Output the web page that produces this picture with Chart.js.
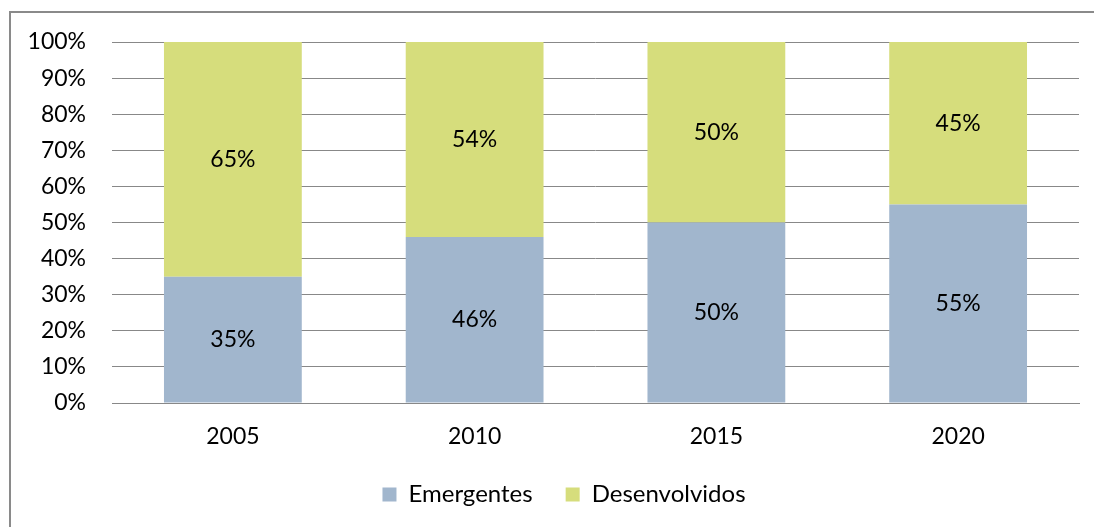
<!DOCTYPE html>
<html><head><meta charset="utf-8">
<script src="https://cdn.jsdelivr.net/npm/chart.js@4/dist/chart.umd.min.js"></script>
<style>
html,body{margin:0;padding:0;background:#fff;}
#wrap{position:relative;width:1094px;height:527px;overflow:hidden;}
#frame{position:absolute;left:9px;top:11px;width:1200px;height:600px;border:2px solid #8a8a8a;box-sizing:border-box;}
canvas{position:absolute;left:0;top:0;}
</style></head>
<body><div id="wrap"><div id="frame"></div><canvas id="c" width="1094" height="545"></canvas></div>
<script>
const categories = ["2005","2010","2015","2020"];
const emergentes = [35,46,50,55];
const desenvolvidos = [65,54,50,45];
const seriesNames = ["Emergentes","Desenvolvidos"];

const FONT = "Lato, 'Open Sans', sans-serif";
const FS = 23;
const labelPlugin = {
  id:'barLabels',
  afterDatasetsDraw(chart){
    const ctx = chart.ctx;
    ctx.save();
    ctx.font = FS + "px " + FONT;
    ctx.fillStyle = "#000";
    ctx.textAlign = "center";
    ctx.textBaseline = "middle";
    chart.data.datasets.forEach((ds,i)=>{
      chart.getDatasetMeta(i).data.forEach((el,j)=>{
        const p = el.getCenterPoint();
        ctx.fillText(ds.data[j] + "%", p.x, p.y);
      });
    });
    ctx.restore();
  }
};
const legendShift = {
  id:'legendShift',
  afterLayout(chart){
    if (chart.legend) { chart.legend.left += 49; }
  }
};

new Chart(document.getElementById('c'), {
  type:'bar',
  data:{
    labels:categories,
    datasets:[
      {label:seriesNames[0], data:emergentes, backgroundColor:"#a1b6cd", categoryPercentage:1, barPercentage:0.57},
      {label:seriesNames[1], data:desenvolvidos, backgroundColor:"#d6dd7c", categoryPercentage:1, barPercentage:0.57}
    ]
  },
  options:{
    responsive:false, animation:false, devicePixelRatio:1,
    layout:{padding:{left:0,right:15,top:42,bottom:28.5}},
    plugins:{
      legend:{position:'bottom', labels:{boxWidth:14, boxHeight:14, padding:33, color:"#000", font:{family:FONT,size:24}}},
      tooltip:{enabled:false}
    },
    scales:{
      x:{stacked:true,
         grid:{display:false, drawTicks:false},
         border:{display:true,color:"#888",width:1},
         ticks:{color:"#000", padding:20, font:{family:FONT,size:FS}},
         afterFit(s){ s.height = 46.5; }
      },
      y:{stacked:true, min:0, max:100,
         grid:{color:"#888", lineWidth:1, drawTicks:false},
         border:{display:false},
         ticks:{stepSize:10, color:"#000", padding:26, font:{family:FONT,size:FS}, callback:v=>v+"%"},
         afterFit(s){ s.width = 112; }
      }
    }
  },
  plugins:[labelPlugin, legendShift]
});
</script></body></html>
